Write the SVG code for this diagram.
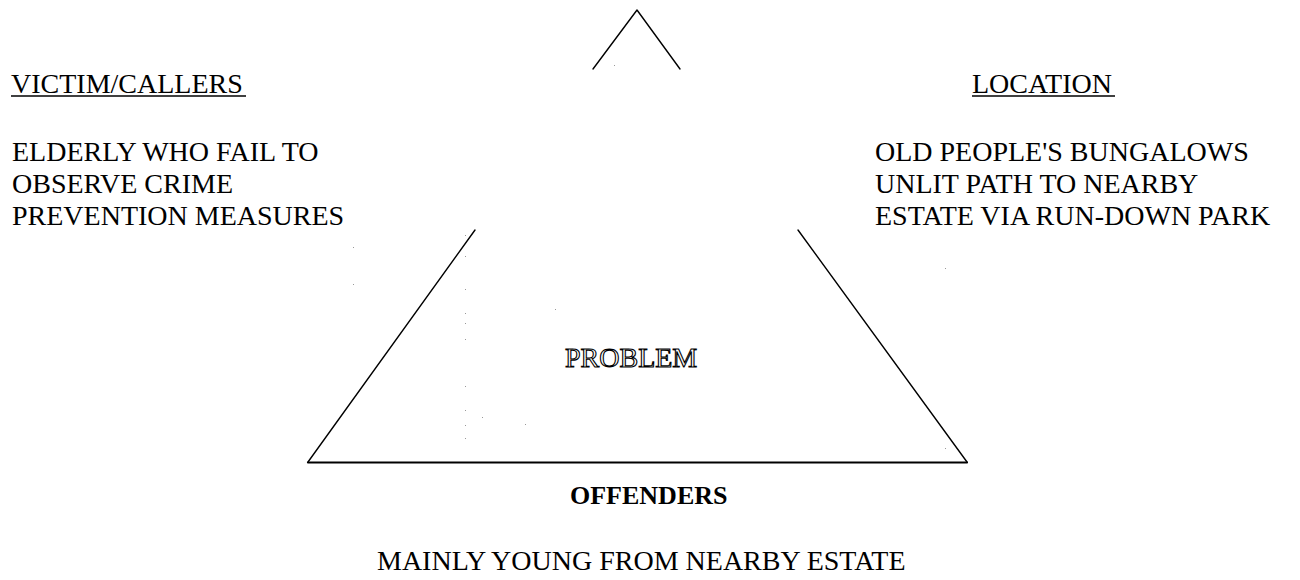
<svg xmlns="http://www.w3.org/2000/svg" width="1300" height="580" viewBox="0 0 1300 580">
  <style>
    .t { font-family: "Liberation Serif", "Times New Roman", serif; font-size: 28px; fill: #000; }
    .b { font-weight: bold; font-size: 26px; }
    .p { fill: #fff; stroke: #000; stroke-width: 1.1px; }
    .ul { stroke: #000; stroke-width: 1.5; }
    .edge { fill: none; stroke: #000; stroke-width: 1.4; stroke-linecap: round; stroke-linejoin: round; }
    .base { stroke-width: 2.2; }
    .dot { fill: #999; }
  </style>
  <rect width="1300" height="580" fill="#fff"/>

  <g id="triangle">
    <polyline class="edge" points="593,69 637,10 680,69"/>
    <line class="edge" x1="475" y1="230" x2="308" y2="462"/>
    <line class="edge" x1="798" y1="230" x2="967" y2="462"/>
    <line class="edge base" x1="308" y1="462.5" x2="967" y2="462.5"/>
  </g>

  <g id="victims">
    <text class="t" x="11" y="93">VICTIM/CALLERS</text>
    <line class="ul" x1="11" y1="96" x2="246" y2="96"/>
    <text class="t" x="12" y="161">ELDERLY WHO FAIL TO</text>
    <text class="t" x="12" y="193">OBSERVE CRIME</text>
    <text class="t" x="12" y="225">PREVENTION MEASURES</text>
  </g>

  <g id="location">
    <text class="t" x="972" y="93">LOCATION</text>
    <line class="ul" x1="972" y1="96" x2="1115" y2="96"/>
    <text class="t" x="875" y="161">OLD PEOPLE'S BUNGALOWS</text>
    <text class="t" x="875" y="193">UNLIT PATH TO NEARBY</text>
    <text class="t" x="875" y="225">ESTATE VIA RUN-DOWN PARK</text>
  </g>

  <g id="problem">
    <text class="t p" x="565" y="367">PROBLEM</text>
  </g>

  <g id="offenders">
    <text class="t b" x="570" y="504">OFFENDERS</text>
    <text class="t" x="377" y="570">MAINLY YOUNG FROM NEARBY ESTATE</text>
  </g>

  <g id="specks">
    <rect class="dot" x="353" y="247" width="1" height="1"/>
    <rect class="dot" x="353" y="284" width="1" height="1"/>
    <rect class="dot" x="465" y="235" width="1" height="1"/>
    <rect class="dot" x="465" y="256" width="1" height="1"/>
    <rect class="dot" x="465" y="289" width="1" height="1"/>
    <rect class="dot" x="465" y="313" width="1" height="1"/>
    <rect class="dot" x="465" y="323" width="1" height="1"/>
    <rect class="dot" x="465" y="339" width="1" height="1"/>
    <rect class="dot" x="465" y="386" width="1" height="1"/>
    <rect class="dot" x="465" y="410" width="1" height="1"/>
    <rect class="dot" x="465" y="425" width="1" height="1"/>
    <rect class="dot" x="465" y="438" width="1" height="1"/>
    <rect class="dot" x="555" y="309" width="1" height="1"/>
    <rect class="dot" x="482" y="417" width="1" height="1"/>
    <rect class="dot" x="525" y="424" width="1" height="1"/>
    <rect class="dot" x="945" y="268" width="1" height="1"/>
    <rect class="dot" x="945" y="448" width="1" height="1"/>
    <rect class="dot" x="614" y="65" width="1" height="1"/>
  </g>
</svg>
